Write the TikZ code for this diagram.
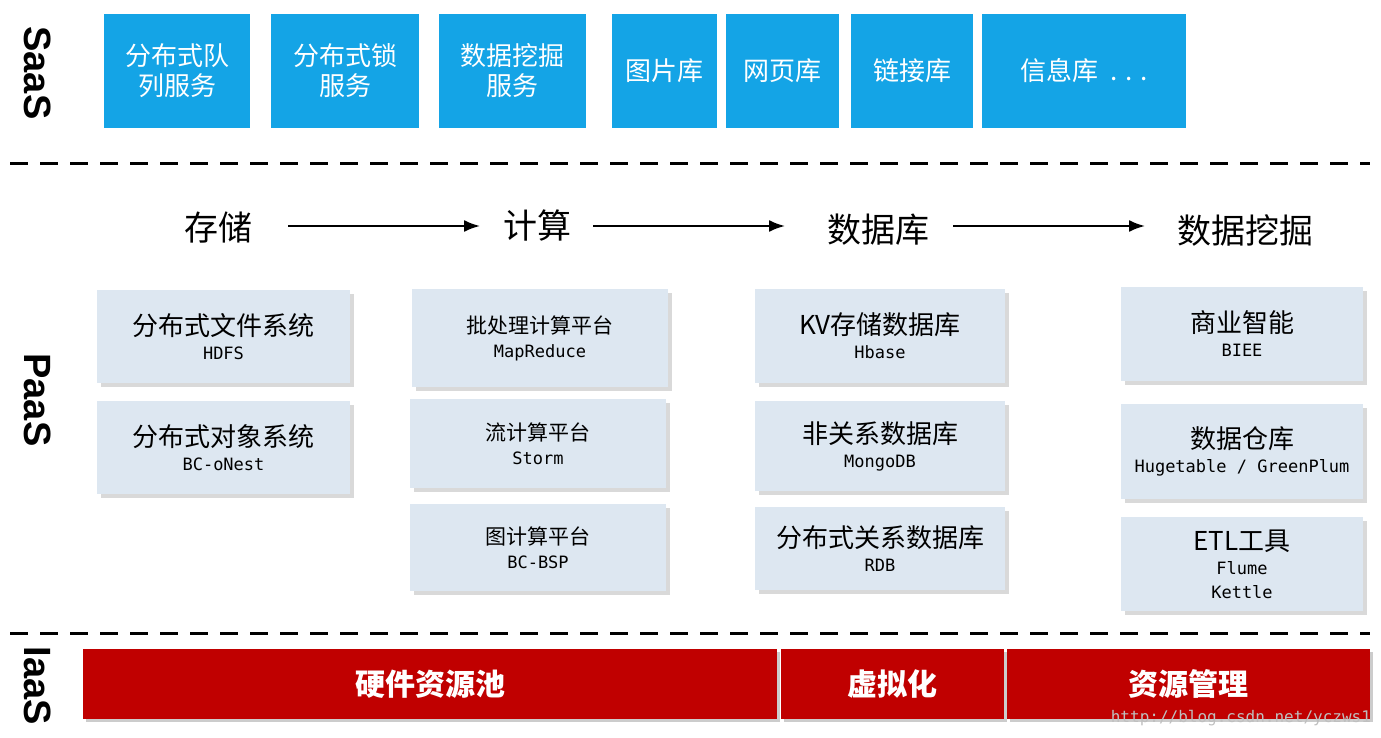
\documentclass[tikz,border=0pt]{standalone}
\usepackage{fontspec}
\setmainfont{Noto Sans CJK SC}
\setsansfont{Liberation Sans}
\setmonofont{DejaVu Sans Mono}
\usetikzlibrary{positioning,arrows.meta,shadows}
\definecolor{saasblue}{HTML}{14A4E6}
\definecolor{paasgray}{HTML}{DDE7F1}
\definecolor{iaasred}{HTML}{C00000}
\tikzset{
  saas/.style={fill=saasblue,text=white,font=\fontsize{13}{15}\selectfont,align=center,inner sep=0pt},
  paas/.style={fill=paasgray,align=center,inner sep=0pt,drop shadow={shadow xshift=2pt,shadow yshift=-2pt,fill=black!15,opacity=1}},
  iaas/.style={fill=iaasred,text=white,font=\fontsize{15}{17}\selectfont\bfseries,inner sep=0pt,drop shadow={shadow xshift=1.5pt,shadow yshift=-1.5pt,fill=black!20,opacity=1}},
  head/.style={font=\fontsize{17}{19}\selectfont},
  layer/.style={rotate=-90,font=\sffamily\bfseries\fontsize{19}{21}\selectfont},
  flow/.style={-{Latex[length=8pt,width=6pt]},line width=1pt},
  sep/.style={line width=1.5pt,dash pattern=on 9pt off 6pt}
}
\newcommand{\ttl}[1]{{\fontsize{13}{15}\selectfont #1}}
\newcommand{\ttls}[1]{{\fontsize{10.5}{13}\selectfont #1}}
\newcommand{\sub}[1]{{\ttfamily\fontsize{8.5}{11}\selectfont #1}}
\begin{document}
\begin{tikzpicture}[x=0.5pt,y=-0.5pt]
  \useasboundingbox (0,0) rectangle (1381,738);

  % layer labels
  \node[layer] (saas) at (38,73) {SaaS};
  \node[layer] (paas) at (38,400) {PaaS};
  \node[layer] (iaas) at (38,686) {IaaS};

  % SaaS
  \node[saas,minimum width=73pt,minimum height=57pt] (s1) at (177,71) {分布式队\\列服务};
  \node[saas,minimum width=74pt,minimum height=57pt] (s2) at (345,71) {分布式锁\\服务};
  \node[saas,minimum width=73.5pt,minimum height=57pt] (s3) at (512.5,71) {数据挖掘\\服务};
  \node[saas,minimum width=52.5pt,minimum height=57pt] (s4) at (664.5,71) {图片库};
  \node[saas,minimum width=56.5pt,minimum height=57pt] (s5) at (782.5,71) {网页库};
  \node[saas,minimum width=61pt,minimum height=57pt] (s6) at (912,71) {链接库};
  \node[saas,minimum width=102pt,minimum height=57pt] (s7) at (1084,71) {信息库~~. . .};

  \coordinate (d1l) at (10,163); \coordinate (d1r) at (1370,163);
  \coordinate (d2l) at (10,633); \coordinate (d2r) at (1370,633);
  \draw[sep] (d1l) -- (d1r);
  \draw[sep] (d2l) -- (d2r);

  % flow headings
  \node[head] (h1) at (218,228) {存储};
  \node[head] (h2) at (537,226) {计算};
  \node[head] (h3) at (878,230) {数据库};
  \node[head] (h4) at (1245,230) {数据挖掘};
  \draw[flow] (h1) ++(70,-2) coordinate (a1) -- (480,226) coordinate (b1);
  \draw[flow] (593,226) coordinate (a2) -- (785,226) coordinate (b2);
  \draw[flow] (953,226) coordinate (a3) -- (1145,226) coordinate (b3);

  % PaaS columns
  \node[paas,minimum width=126.5pt,minimum height=46.5pt] (p11) at (223.5,336.5) {\ttl{分布式文件系统}\\\sub{HDFS}};
  \node[paas,minimum width=126.5pt,minimum height=46.5pt] (p12) at (223.5,447.5) {\ttl{分布式对象系统}\\\sub{BC-oNest}};

  \node[paas,minimum width=128pt,minimum height=49pt] (p21) at (540,338) {\ttls{批处理计算平台}\\\sub{MapReduce}};
  \node[paas,minimum width=128pt,minimum height=44.5pt] (p22) at (538,443.5) {\ttls{流计算平台}\\\sub{Storm}};
  \node[paas,minimum width=128pt,minimum height=43.5pt] (p23) at (538,547.5) {\ttls{图计算平台}\\\sub{BC-BSP}};

  \node[paas,minimum width=125pt,minimum height=47pt] (p31) at (880,336) {\ttl{KV存储数据库}\\\sub{Hbase}};
  \node[paas,minimum width=125pt,minimum height=45pt] (p32) at (880,446) {\ttl{非关系数据库}\\\sub{MongoDB}};
  \node[paas,minimum width=125pt,minimum height=41.5pt] (p33) at (880,548.5) {\ttl{分布式关系数据库}\\\sub{RDB}};

  \node[paas,minimum width=121pt,minimum height=47pt] (p41) at (1242,334) {\ttl{商业智能}\\\sub{BIEE}};
  \node[paas,minimum width=121pt,minimum height=47.5pt] (p42) at (1242,451.5) {\ttl{数据仓库}\\\sub{Hugetable / GreenPlum}};
  \node[paas,minimum width=121pt,minimum height=47pt] (p43) at (1242,564) {\ttl{ETL工具}\\\sub{Flume}\\\sub{Kettle}};

  % IaaS
  \node[iaas,minimum width=347pt,minimum height=35pt] (i1) at (430,684) {硬件资源池};
  \node[iaas,minimum width=111.5pt,minimum height=35pt] (i2) at (892.5,684) {虚拟化};
  \node[iaas,minimum width=181.5pt,minimum height=35pt] (i3) at (1188.5,684) {资源管理};

  \node[text=black!25,font=\ttfamily\fontsize{8}{9}\selectfont,anchor=east] (wm) at (1378,718) {http://blog.csdn.net/yczws1};
\end{tikzpicture}
\end{document}
